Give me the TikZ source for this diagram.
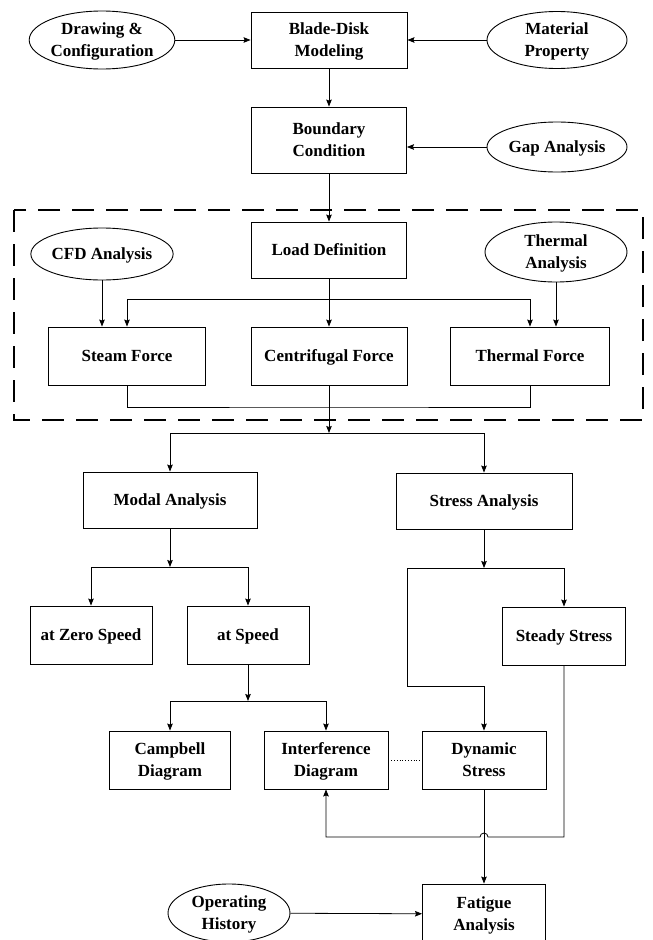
\documentclass[tikz,border=0pt]{standalone}
\usepackage{fontspec}
\setmainfont{Liberation Serif}
\usepackage{tikz}
\usetikzlibrary{shapes.geometric,arrows.meta}

\begin{document}
\begin{tikzpicture}[x=1pt,y=-1pt,
  >={Stealth[length=7pt,width=5.5pt,inset=1pt]},
  every node/.style={font=\bfseries\fontsize{17}{22}\selectfont,align=center,inner sep=0pt,text depth=0pt},
  proc/.style={draw,rectangle,line width=0.9pt},
  src/.style={draw,ellipse,line width=0.9pt},
  line/.style={line width=0.8pt}]
  \useasboundingbox (0,0) rectangle (653,940);

  % top inputs
  \node[src,minimum width=142,minimum height=58] (drw) at (102,40) {Drawing \&\\Configuration};
  \node[proc,minimum width=156,minimum height=56] (blade) at (329,40) {Blade-Disk\\Modeling};
  \node[src,minimum width=140,minimum height=57] (matl) at (557,40) {Material\\Property};
  \node[proc,minimum width=155,minimum height=66] (bound) at (329,140) {Boundary\\Condition};
  \node[src,minimum width=140,minimum height=50] (gap) at (557,147) {Gap Analysis};

  % load block
  \draw[line width=1.3pt,dash pattern=on 22pt off 12pt] (14,210) rectangle (643,420);
  \node[proc,minimum width=155,minimum height=56] (load) at (329,250) {Load Definition};
  \node[src,minimum width=142,minimum height=52] (cfd) at (102,254) {CFD Analysis};
  \node[src,minimum width=142,minimum height=60] (thA) at (556,252) {Thermal\\Analysis};
  \node[proc,minimum width=157,minimum height=58] (steam) at (127,356) {Steam Force};
  \node[proc,minimum width=156,minimum height=58] (cent) at (329,356) {Centrifugal Force};
  \node[proc,minimum width=159,minimum height=58] (thF) at (530,356) {Thermal Force};

  % analyses
  \node[proc,minimum width=174,minimum height=56] (modal) at (170,500) {Modal Analysis};
  \node[proc,minimum width=176,minimum height=56] (stress) at (484,501) {Stress Analysis};
  \node[proc,minimum width=122,minimum height=58] (zero) at (91,635) {at Zero Speed};
  \node[proc,minimum width=122,minimum height=58] (atsp) at (248,635) {at Speed};
  \node[proc,minimum width=123,minimum height=58] (steady) at (564,636) {Steady Stress};
  \node[proc,minimum width=121,minimum height=58] (camp) at (170,760) {Campbell\\Diagram};
  \node[proc,minimum width=124,minimum height=58] (intf) at (326,760) {Interference\\Diagram};
  \node[proc,minimum width=124,minimum height=58] (dyn) at (484,760) {Dynamic\\Stress};
  \node[proc,minimum width=123,minimum height=60] (fat) at (484,914) {Fatigue\\Analysis};
  \node[src,minimum width=122,minimum height=58] (oper) at (229,913) {Operating\\History};

  \coordinate (s1) at (329,299);
  \coordinate (j1) at (329,407);
  \coordinate (s2) at (329,433);
  \coordinate (s3) at (170,567);
  \coordinate (s4) at (484,568);
  \coordinate (bA) at (407,686);
  \coordinate (s5) at (248,701);
  \coordinate (hopR) at (488,837);

  \draw[line,->] (drw) -- (blade);
  \draw[line,->] (matl) -- (blade);
  \draw[line,->] (blade) -- (bound);
  \draw[line,->] (gap) -- (gap -| bound.east);
  \draw[line,->] (bound) -- (load);
  \draw[line,->] (load) -- (cent);
  \draw[line,->] (cfd) -- (cfd |- steam.north);
  \draw[line,->] (thA) -- (thA |- thF.north);
  \draw[line,->] (s1) -| (steam.north);
  \draw[line,->] (s1) -| (thF.north);
  \draw[line] (steam.south) |- (j1) -| (thF.south);
  \draw[line,->] (cent) -- (s2);
  \draw[line,->] (s2) -| (modal.north);
  \draw[line,->] (s2) -| (stress.north);

  \draw[line,->] (modal) -- (s3);
  \draw[line,->] (s3) -| (zero.north);
  \draw[line,->] (s3) -| (atsp.north);
  \draw[line,->] (stress) -- (s4);
  \draw[line,->] (s4) -| (steady.north);
  \draw[line,->] (s4) -| (bA) -| (dyn.north);
  \draw[line,->] (atsp) -- (s5);
  \draw[line,->] (s5) -| (camp.north);
  \draw[line,->] (s5) -| (intf.north);
  \draw[line,dotted] (intf) -- (dyn);
  \draw[line,->] (dyn) -- (fat);
  \draw[line,->] (steady.south) |- (hopR)
    arc[start angle=0,end angle=180,radius=4pt] -| (intf.south);
  \draw[line,->] (oper) -- (fat);
\end{tikzpicture}
\end{document}
